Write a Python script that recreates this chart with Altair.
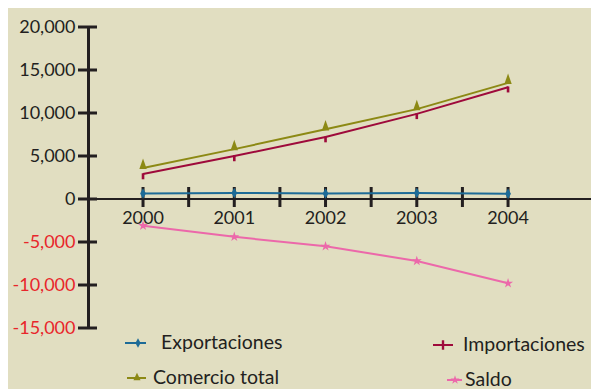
import altair as alt
import pandas as pd

# ---- data ----
years = [2000, 2001, 2002, 2003, 2004]
series_names = ["Exportaciones", "Importaciones", "Comercio total", "Saldo"]
exportaciones = [650, 700, 650, 700, 600]
importaciones = [2900, 5000, 7200, 9900, 13000]
comercio_total = [3600, 5800, 8100, 10450, 13500]
saldo = [-3100, -4400, -5500, -7200, -9800]
y_ticks = [-15000, -10000, -5000, 0, 5000, 10000, 15000, 20000]
x_ticks = [2000, 2000.5, 2001, 2001.5, 2002, 2002.5, 2003, 2003.5, 2004]
year_labels = ["2000", "2001", "2002", "2003", "2004"]

# ---- styles ----
colors = ["#1D6B97", "#9E0A3B", "#8C8914", "#EC68AA"]
STAR = ("M0,-1L0.2245,-0.309L0.951,-0.309L0.363,0.118L0.588,0.809L0,0.382"
        "L-0.588,0.809L-0.363,0.118L-0.951,-0.309L-0.2245,-0.309Z")
point_shapes = [
    "M0,-1L0.55,0L0,1L-0.55,0Z",
    "M-0.25,-0.15L0.25,-0.15L0.25,1L-0.25,1Z",
    "M0,-1.8L0.7,0.2L-0.7,0.2Z",
    STAR,
]
legend_shapes = [
    "M0,-1L0.55,0L0,1L-0.55,0Z",
    "M-0.25,-1L0.25,-1L0.25,1L-0.25,1Z",
    "M0,-1.1L0.75,0.5L-0.75,0.5Z",
    STAR,
]
FONT = "Lato"
TXT = "#231F20"
BG = "#E1DEC1"

rows = []
for name, vals in zip(series_names, [exportaciones, importaciones, comercio_total, saldo]):
    for yr, v in zip(years, vals):
        rows.append({"series": name, "year": yr, "value": v})
df = pd.DataFrame(rows)

W, H = 503, 301
xscale = alt.Scale(domain=[1999.397, 2004.909], nice=False, zero=False)
yscale = alt.Scale(domain=[-15000, 20000], nice=False, zero=False)
yaxis = alt.Axis(
    values=y_ticks,
    labelExpr="replace(format(datum.value, ','), '\u2212', '-')",
    ticks=False, grid=False, title=None, domainWidth=3, domainColor=TXT,
    labelFont=FONT, labelFontSize=18, labelPadding=13,
    labelColor=alt.condition("datum.value < 0", alt.value("#E8262B"), alt.value(TXT)),
)
color = alt.Color("series:N", scale=alt.Scale(domain=series_names, range=colors), legend=None)

lines = alt.Chart(df).mark_line(strokeWidth=2).encode(
    x=alt.X("year:Q", scale=xscale, axis=None),
    y=alt.Y("value:Q", scale=yscale, axis=yaxis),
    color=color,
)
points = alt.Chart(df).mark_point(filled=True, opacity=1, size=110, strokeWidth=0).encode(
    x=alt.X("year:Q", scale=xscale, axis=None),
    y=alt.Y("value:Q", scale=yscale, axis=yaxis),
    color=color,
    shape=alt.Shape("series:N", scale=alt.Scale(domain=series_names, range=point_shapes), legend=None),
)

ytick_df = pd.DataFrame({"value": y_ticks})
yticks = alt.Chart(ytick_df).mark_rule(color=TXT, strokeWidth=3).encode(
    y=alt.Y("value:Q", scale=yscale, axis=yaxis),
    x=alt.value(-10), x2=alt.value(9),
)

zero = alt.Chart(pd.DataFrame({"value": [0]})).mark_rule(color=TXT, strokeWidth=2).encode(
    y=alt.Y("value:Q", scale=yscale, axis=yaxis),
    x=alt.value(0), x2=alt.value(W),
)

xtick_df = pd.DataFrame({"year": x_ticks, "value": [0] * len(x_ticks)})
xticks = alt.Chart(xtick_df).mark_tick(orient="vertical", size=20, thickness=3, color=TXT,
                                       opacity=1, yOffset=-2).encode(
    x=alt.X("year:Q", scale=xscale, axis=None),
    y=alt.Y("value:Q", scale=yscale, axis=yaxis),
)

xlab_df = pd.DataFrame({"year": years, "label": year_labels, "value": [0] * len(years)})
xlabels = alt.Chart(xlab_df).mark_text(font=FONT, fontSize=18, color=TXT, dy=20).encode(
    x=alt.X("year:Q", scale=xscale, axis=None),
    y=alt.Y("value:Q", scale=yscale, axis=yaxis),
    text="label:N",
)

# ---- manual legend (plot-pixel layout) ----
leg_x0 = [37, 345, 39, 359]
leg_x1 = [58, 365, 58, 374]
leg_xm = [50, 355, 49, 367]
leg_tx = [73, 375, 65, 377]
leg_y = [316, 318, 351, 353]
leg_ty = [316, 318, 351, 353]
leg_df = pd.DataFrame({
    "series": series_names, "x0": leg_x0, "x1": leg_x1, "xm": leg_xm,
    "tx": leg_tx, "y": leg_y, "ty": leg_ty, "shape": legend_shapes,
})
leg_lines = alt.Chart(leg_df).mark_rule(strokeWidth=2).encode(
    x=alt.X("x0:Q", scale=None, axis=None), x2="x1:Q",
    y=alt.Y("y:Q", scale=None, axis=None), color=color,
)
leg_pts = alt.Chart(leg_df).mark_point(filled=True, opacity=1, size=90, strokeWidth=0).encode(
    x=alt.X("xm:Q", scale=None, axis=None),
    y=alt.Y("y:Q", scale=None, axis=None), color=color,
    shape=alt.Shape("shape:N", scale=None, legend=None),
)
leg_text = alt.Chart(leg_df).mark_text(font=FONT, fontSize=19.5, color=TXT, align="left", baseline="middle").encode(
    x=alt.X("tx:Q", scale=None, axis=None),
    y=alt.Y("ty:Q", scale=None, axis=None), text="series:N",
)

chart = alt.layer(
    zero, xticks, yticks, xlabels, lines, points, leg_lines, leg_pts, leg_text
).properties(
    width=W, height=H,
    autosize=alt.AutoSizeParams(type="none"),
    padding={"left": 80, "top": 19, "right": 0, "bottom": 61},
    background=BG,
).configure_view(stroke=None)

chart.save("out.html", embed_options={"renderer": "svg", "actions": False})
